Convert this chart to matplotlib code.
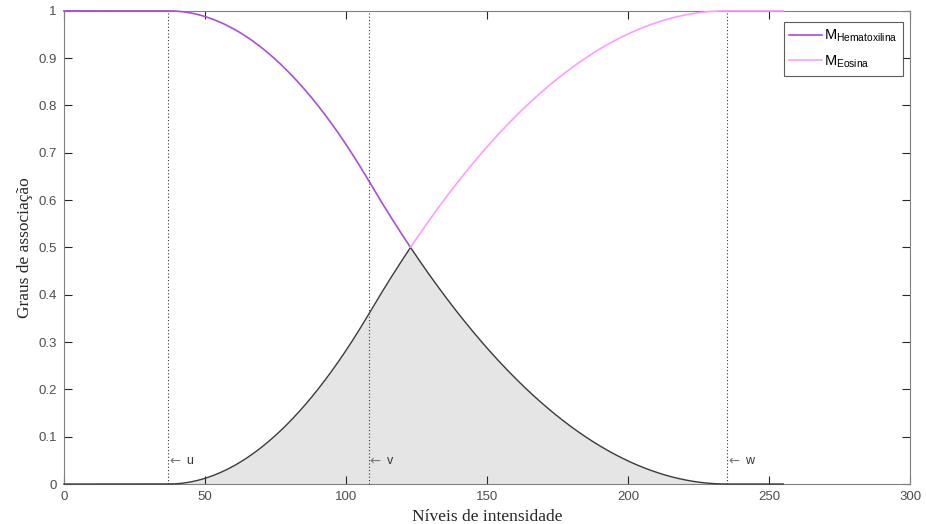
import numpy as np
import matplotlib
matplotlib.use("Agg")
import matplotlib.pyplot as plt

# --- data: S-function parameters ---
u, v, w = 37, 108, 235
levels = np.arange(0, 256)           # intensity levels 0..255
markers = [("u", u), ("v", v), ("w", w)]
x_ticks = [0, 50, 100, 150, 200, 250, 300]
y_ticks = [0, 0.1, 0.2, 0.3, 0.4, 0.5, 0.6, 0.7, 0.8, 0.9, 1]

# Eosina membership = S(x; u, v, w), Hematoxilina = 1 - S
x = np.linspace(levels[0], levels[-1], 1024)
m_eos = np.where(
    x <= u, 0.0,
    np.where(x <= v, (x - u) ** 2 / ((v - u) * (w - u)),
             np.where(x <= w, 1 - (x - w) ** 2 / ((w - v) * (w - u)), 1.0)))
m_hem = 1 - m_eos
m_min = np.minimum(m_hem, m_eos)

plt.rcParams["font.family"] = ["Liberation Sans", "DejaVu Sans"]
plt.rcParams["mathtext.fontset"] = "custom"
plt.rcParams["mathtext.rm"] = "Liberation Sans"

fig = plt.figure(figsize=(9.26, 5.24), dpi=100)
ax = fig.add_axes([0.069, 0.0763, 0.914, 0.903])

purple = "#a84fd8"
pink = "#ff9cff"

ax.fill_between(x, 0, m_min, color="#e5e5e5", lw=0, zorder=1)
ax.plot(x, m_min, color="#3a3a3a", lw=1.0, zorder=3, clip_on=False)
cross = m_hem >= m_eos
ax.plot(x[cross], m_hem[cross], color=purple, lw=1.2, zorder=3, clip_on=False,
        label=r"M$_{\mathrm{Hematoxilina}}$")
ax.plot(x[~cross], m_eos[~cross], color=pink, lw=1.2, zorder=3, clip_on=False,
        label=r"M$_{\mathrm{Eosina}}$")

for name, pos in markers:
    ax.axvline(pos, color="#333333", lw=0.8, ls=(0, (1, 2)), zorder=2)
    ax.text(pos + 0.4, 0.048, "\u2190", color="#777777", fontsize=9.5,
            va="center", ha="left", family=["DejaVu Sans"])
    ax.text(pos + 6.5, 0.048, name, color="#333333", fontsize=9,
            va="center", ha="left")

ax.set_xlim(0, 300)
ax.set_ylim(0, 1)
ax.set_xticks(x_ticks)
ax.set_yticks(y_ticks)
ax.set_yticklabels([f"{t:g}" for t in y_ticks])
ax.tick_params(direction="in", top=True, right=True, length=5.5, width=0.8,
               colors="#262626", labelsize=9.5, labelcolor="#4d4d4d", pad=5)
for s in ax.spines.values():
    s.set_color("#808080")
    s.set_linewidth(0.8)

ax.set_xlabel("Níveis de intensidade", family="Liberation Serif",
              fontsize=12.5, color="#262626", labelpad=4)
ax.set_ylabel("Graus de associação", family="Liberation Serif",
              fontsize=12.5, color="#262626", labelpad=4)

leg = ax.legend(loc="upper right", fontsize=10.5, frameon=True, fancybox=False,
                bbox_to_anchor=(0.9915, 0.9765),
                borderaxespad=0.0, handlelength=2.2, handletextpad=0.15,
                labelspacing=0.6, borderpad=0.4)
leg.get_frame().set_edgecolor("#333333")
leg.get_frame().set_linewidth(0.8)

fig.savefig("out.png", dpi=100)
plt.close(fig)
